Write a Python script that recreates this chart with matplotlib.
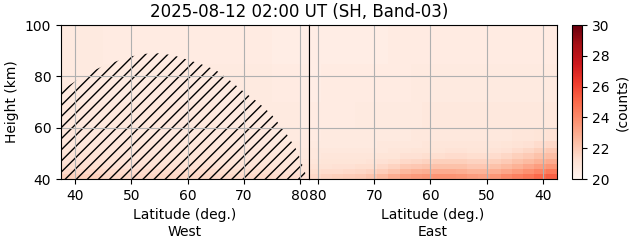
import numpy as np
import matplotlib.pyplot as plt

# latitude / height bin edges
lat_edges_east = np.arange(37.5, 81.6, 2.0)
lat_edges_west = [37.5, 45.0, 55.0, 65.0, 75.0, 80.0, 81.6]
height_edges = [40, 42, 44, 46, 48, 50, 52, 55, 60, 70, 85, 100]

# counts, rows = height bins (bottom up), cols = latitude bins (38.5 ... 80.5)
counts_east = [
    [25.3, 25.0, 24.6, 24.3, 24.0, 23.6, 23.3, 23.4, 23.6, 23.7, 23.7, 23.6, 23.5, 23.3, 22.9, 22.5, 22.2, 22.0, 21.9, 21.8, 21.7, 21.5],
    [24.5, 24.2, 23.8, 23.5, 23.2, 22.9, 22.7, 22.7, 22.9, 23.0, 23.0, 22.9, 22.8, 22.6, 22.2, 21.9, 21.7, 21.6, 21.5, 21.4, 21.4, 21.3],
    [23.6, 23.4, 23.1, 22.8, 22.5, 22.3, 22.1, 22.1, 22.3, 22.3, 22.3, 22.2, 22.1, 22.0, 21.7, 21.5, 21.3, 21.3, 21.2, 21.2, 21.1, 21.1],
    [23.0, 22.8, 22.5, 22.3, 22.0, 21.8, 21.7, 21.7, 21.8, 21.8, 21.8, 21.7, 21.6, 21.5, 21.3, 21.2, 21.1, 21.0, 21.0, 21.0, 21.0, 20.9],
    [22.4, 22.3, 22.0, 21.8, 21.6, 21.4, 21.3, 21.3, 21.4, 21.4, 21.3, 21.3, 21.2, 21.2, 21.0, 21.0, 20.9, 20.9, 20.9, 20.9, 20.9, 20.8],
    [22.0, 21.8, 21.6, 21.4, 21.2, 21.1, 21.0, 21.0, 21.1, 21.1, 21.0, 21.0, 21.0, 20.9, 20.9, 20.8, 20.8, 20.8, 20.8, 20.8, 20.8, 20.8],
    [21.5, 21.4, 21.2, 21.1, 21.0, 20.9, 20.9, 20.9, 20.9, 20.9, 20.9, 20.9, 20.8, 20.8, 20.8, 20.8, 20.7, 20.7, 20.7, 20.7, 20.7, 20.7],
    [21.1, 21.0, 20.9, 20.9, 20.8, 20.8, 20.8, 20.8, 20.8, 20.8, 20.8, 20.8, 20.8, 20.7, 20.7, 20.7, 20.7, 20.7, 20.7, 20.7, 20.7, 20.6],
    [20.8, 20.8, 20.8, 20.8, 20.8, 20.8, 20.8, 20.8, 20.8, 20.8, 20.8, 20.8, 20.7, 20.7, 20.7, 20.7, 20.7, 20.7, 20.6, 20.6, 20.6, 20.6],
    [20.7, 20.7, 20.7, 20.7, 20.7, 20.7, 20.7, 20.7, 20.7, 20.7, 20.7, 20.7, 20.7, 20.6, 20.6, 20.6, 20.6, 20.6, 20.6, 20.6, 20.6, 20.5],
    [20.6, 20.6, 20.6, 20.6, 20.6, 20.6, 20.6, 20.6, 20.6, 20.6, 20.6, 20.6, 20.6, 20.6, 20.6, 20.5, 20.5, 20.5, 20.5, 20.5, 20.5, 20.5],
]
counts_west = [
    [21.8, 21.6, 21.6, 21.5, 21.4, 21.2],
    [21.5, 21.4, 21.4, 21.3, 21.2, 21.0],
    [21.3, 21.2, 21.2, 21.1, 21.0, 20.9],
    [21.2, 21.1, 21.1, 21.0, 20.9, 20.8],
    [21.1, 21.0, 21.0, 20.9, 20.9, 20.7],
    [21.0, 20.9, 20.9, 20.9, 20.8, 20.7],
    [20.9, 20.9, 20.9, 20.8, 20.8, 20.6],
    [20.9, 20.8, 20.8, 20.8, 20.7, 20.6],
    [20.8, 20.8, 20.8, 20.7, 20.7, 20.5],
    [20.7, 20.7, 20.7, 20.7, 20.6, 20.5],
    [20.7, 20.6, 20.6, 20.6, 20.5, 20.4],
]

# hatched region (west), upper boundary
hatch_lat = [37.5, 40, 42.5, 45, 47.5, 50, 52.5, 55, 57.5, 60, 62.5, 65, 67.5, 70, 72.5, 75, 77.5, 79.5, 81.0]
hatch_top = [74.5, 78, 81.5, 84, 86, 87.8, 88.8, 89, 88.2, 86.5, 84.7, 82.5, 78.5, 74, 70, 65, 58, 51, 42]

fig = plt.figure(figsize=(6.31, 2.43), dpi=100)
ax_w = fig.add_axes([0.0967, 0.263, 0.393, 0.634])
ax_e = fig.add_axes([0.4897, 0.263, 0.393, 0.634])
cax = fig.add_axes([0.9065, 0.263, 0.0158, 0.634])

mesh = ax_w.pcolormesh(lat_edges_west, height_edges, counts_west, cmap='Reds', vmin=20, vmax=30)
ax_w.fill_between(hatch_lat, 40, hatch_top, facecolor='none', edgecolor='k', linewidth=0, hatch='///')
ax_e.pcolormesh(lat_edges_east, height_edges, counts_east, cmap='Reds', vmin=20, vmax=30)

ax_w.set_xlim(37.5, 81.6)
ax_e.set_xlim(81.6, 37.5)
for ax in (ax_w, ax_e):
    ax.set_ylim(40, 100)
    ax.set_xticks([40, 50, 60, 70, 80])
    ax.set_yticks([40, 60, 80, 100])
    ax.grid(True)
ax_e.tick_params(left=False, labelleft=False)

ax_w.set_xlabel('Latitude (deg.)\nWest')
ax_e.set_xlabel('Latitude (deg.)\nEast')
ax_w.set_ylabel('Height (km)')

cb = fig.colorbar(mesh, cax=cax)
cb.set_ticks([20, 22, 24, 26, 28, 30])
cb.set_label('(counts)')

fig.text(0.474, 0.95, '2025-08-12 02:00 UT (SH, Band-03)', ha='center', va='center', fontsize=12)

fig.savefig('out.png', dpi=100)
